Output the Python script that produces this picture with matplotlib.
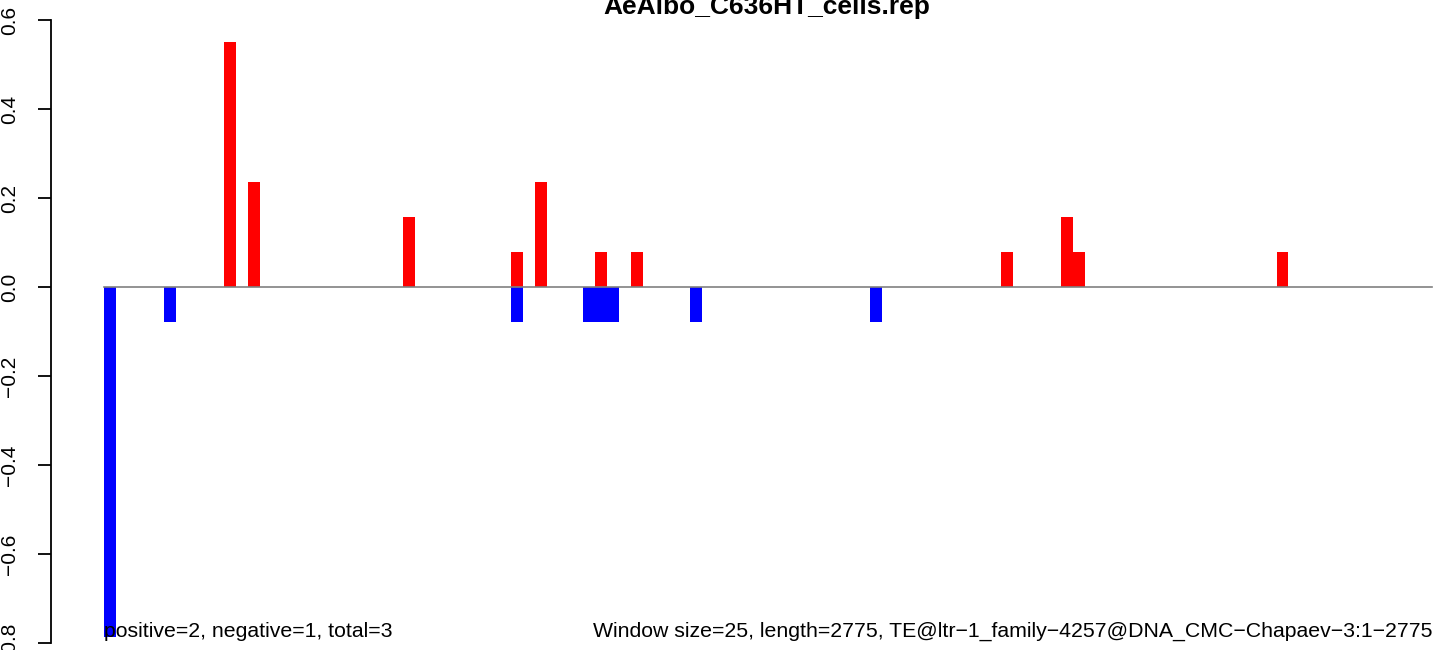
import numpy as np
import matplotlib
matplotlib.use('Agg')
import matplotlib.pyplot as plt

plt.rcParams['font.family'] = ['Liberation Sans', 'DejaVu Sans']

# windows of 25 bp along a 2775 bp element -> 111 windows
n_windows = 111
title = 'AeAlbo_C636HT_cells.rep'
left_note = 'positive=2, negative=1, total=3'
right_note = 'Window size=25, length=2775, TE@ltr\u22121_family\u22124257@DNA_CMC\u2212Chapaev\u22123:1\u22122775'

# positive (red) windows and values
pos_idx = [10, 12, 25, 34, 36, 41, 44, 75, 80, 81, 98]
pos_val = [0.551, 0.236, 0.157, 0.0787, 0.236, 0.0787, 0.0787, 0.0787, 0.157, 0.0787, 0.0787]

# negative (blue) windows and values
neg_idx = [0, 5, 34, 40, 41, 42, 49, 64]
neg_val = [-0.787, -0.0787, -0.0787, -0.0787, -0.0787, -0.0787, -0.0787, -0.0787]

y_ticks = [-0.8, -0.6, -0.4, -0.2, 0.0, 0.2, 0.4, 0.6]

W, H = 1444, 650
fig = plt.figure(figsize=(W / 100, H / 100), dpi=100)
ax = fig.add_axes([50.7 / W, 0, 1 - 50.7 / W, 1])

ax.bar(neg_idx, neg_val, width=1, align='edge', color='#0000FF', linewidth=0)
ax.bar(pos_idx, pos_val, width=1, align='edge', color='#FF0000', linewidth=0)
ax.plot([0, n_windows], [0, 0], color='#808080', linewidth=1.2, zorder=3)

ax.set_xlim(-4.48, 112.0)
ax.set_ylim(-0.8157, 0.645)

for s in ['top', 'right', 'bottom']:
    ax.spines[s].set_visible(False)
ax.spines['left'].set_bounds(-0.8, 0.6)
ax.spines['left'].set_linewidth(1.3)
ax.set_xticks([])
ax.set_yticks(y_ticks)
ax.set_yticklabels([('\u2212%.1f' % -v) if v < 0 else '%.1f' % v for v in y_ticks],
                   rotation=90, va='center', fontsize=15)
ax.tick_params(axis='y', direction='out', length=9.5, width=1.3, pad=13.5)

ax.text(0, -0.787, left_note, ha='left', va='baseline', fontsize=15.3)
ax.text(n_windows, -0.787, right_note, ha='right', va='baseline', fontsize=15.3)

fig.text(767 / W, 1 - 14 / H, title, ha='center', va='baseline',
         fontsize=19, fontweight='bold')

fig.savefig('out.png', dpi=100)
